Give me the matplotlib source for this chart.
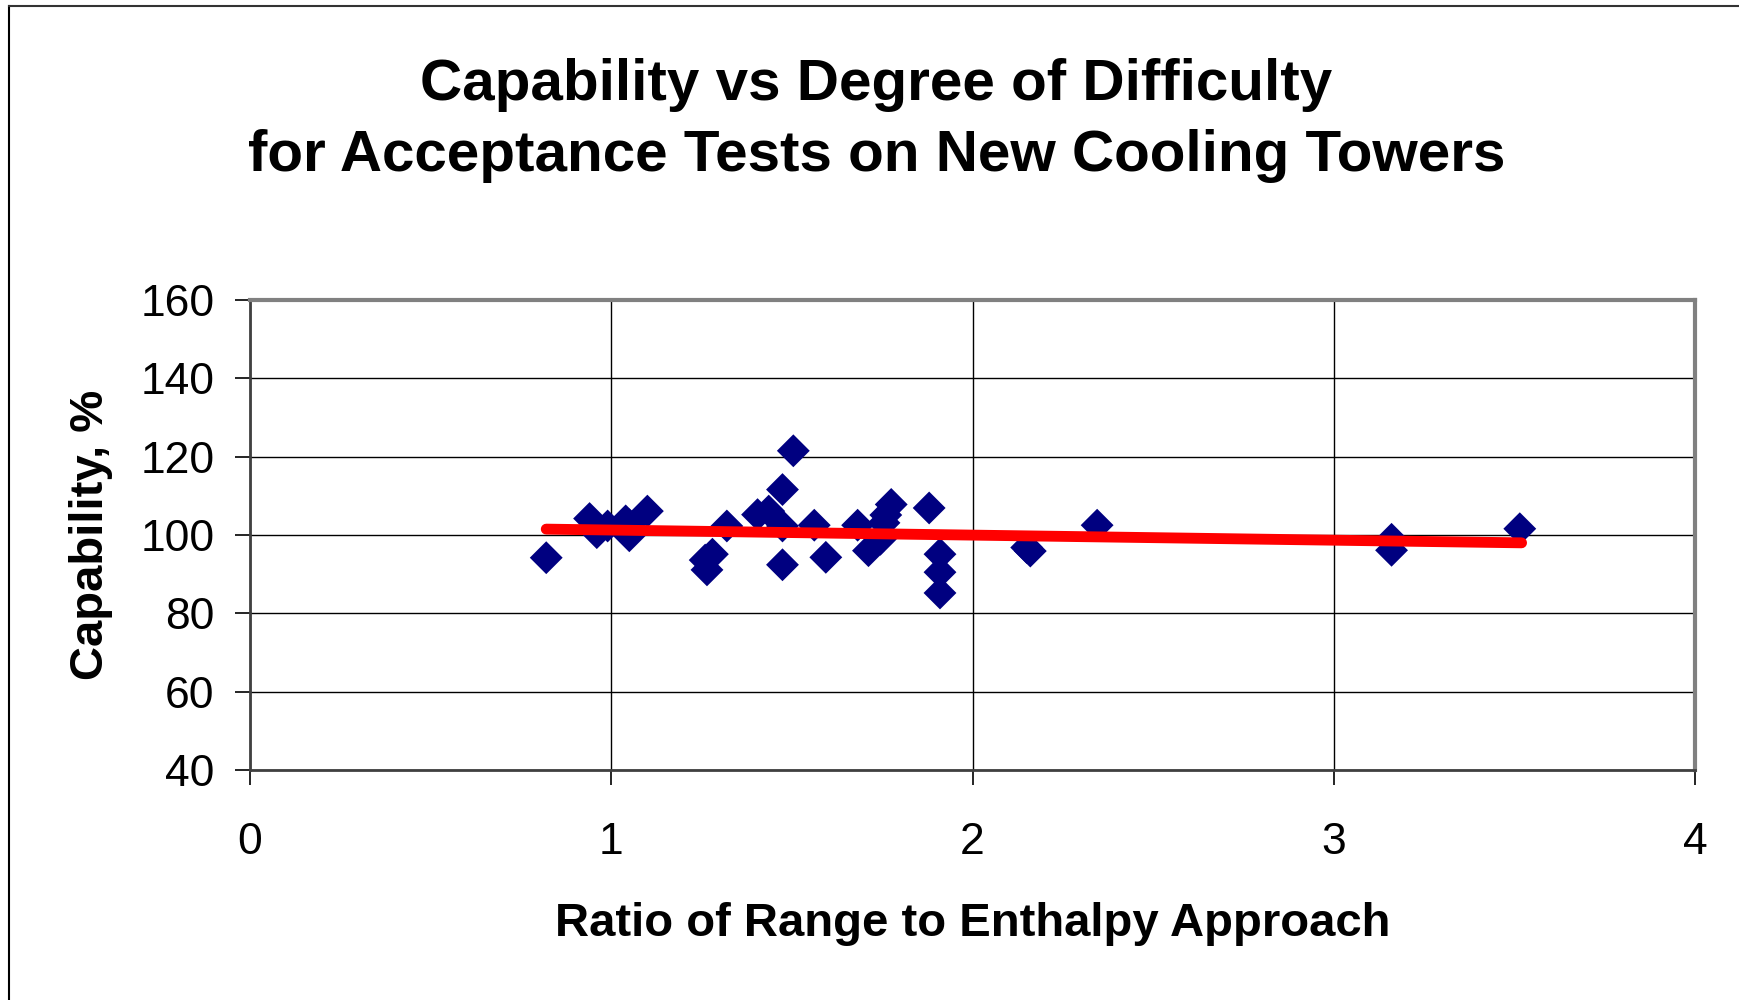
import matplotlib
matplotlib.use("Agg")
import matplotlib.pyplot as plt
from matplotlib.lines import Line2D

plt.rcParams['font.family'] = ['Liberation Sans', 'DejaVu Sans']

# Data
ratio = [0.82, 0.94, 0.96, 0.99, 1.04, 1.05, 1.05, 1.10,
         1.26, 1.28, 1.265, 1.32, 1.405, 1.436, 1.474, 1.504,
         1.474, 1.474, 1.562, 1.594, 1.682, 1.712, 1.745, 1.755,
         1.76, 1.775, 1.88, 1.91, 1.91, 1.91, 2.15, 2.16,
         2.345, 3.16, 3.16, 3.515]
capability = [94.2, 104.2, 100.6, 102.3, 103.6, 99.8, 102.6, 106.1,
              93.6, 95.1, 91.1, 102.3, 105.2, 106.1, 111.6, 121.5,
              102.3, 92.4, 102.5, 94.3, 102.5, 96.0, 98.9, 103.1,
              105.1, 107.8, 106.9, 95.1, 90.5, 85.2, 96.8, 95.9,
              102.5, 98.9, 96.1, 101.6]
trend_x = [0.82, 3.52]
trend_y = [101.5, 98.0]

x_ticks = [0, 1, 2, 3, 4]
y_ticks = [40, 60, 80, 100, 120, 140, 160]

title = "Capability vs Degree of Difficulty\nfor Acceptance Tests on New Cooling Towers"
xlabel = "Ratio of Range to Enthalpy Approach"
ylabel = "Capability, %"

fig = plt.figure(figsize=(17.39, 10), dpi=100)
ax = fig.add_axes([250/1739, 1 - 770/1000, (1695-250)/1739, (770-300)/1000])

ax.set_xlim(0, 4)
ax.set_ylim(40, 160)
ax.set_xticks(x_ticks)
ax.set_yticks(y_ticks)
ax.grid(True, color='black', linewidth=1.0)
ax.set_axisbelow(True)

for s in ['top', 'right']:
    ax.spines[s].set_color('#808080')
    ax.spines[s].set_linewidth(3)
for s in ['left', 'bottom']:
    ax.spines[s].set_color('#404040')
    ax.spines[s].set_linewidth(2)

ax.tick_params(axis='both', direction='out', length=10.8, width=1.2, color='black',
               labelsize=32)
ax.tick_params(axis='y', pad=14.6)
ax.tick_params(axis='x', pad=26.5)

ax.scatter(ratio, capability, marker='D', s=280, color='#000080',
           edgecolors='none', zorder=3)
ax.plot(trend_x, trend_y, color='#FF0000', linewidth=7.8,
        solid_capstyle='round', zorder=4)

fig.text(0.504, 0.8795, title, ha='center', va='center', fontsize=42,
         fontweight='bold', linespacing=1.42)
ax.set_xlabel(xlabel, fontsize=34, fontweight='bold', labelpad=28)
ax.set_ylabel(ylabel, fontsize=34, fontweight='bold', labelpad=20)

# outer chart border (left and top visible)
fig.add_artist(Line2D([9/1739, 9/1739], [0, 1 - 6/1000], color='black',
                      linewidth=1.5, transform=fig.transFigure))
fig.add_artist(Line2D([9/1739, 1], [1 - 6/1000, 1 - 6/1000], color='#333333',
                      linewidth=1.5, transform=fig.transFigure))

fig.savefig("out.png", dpi=100, facecolor='white')
